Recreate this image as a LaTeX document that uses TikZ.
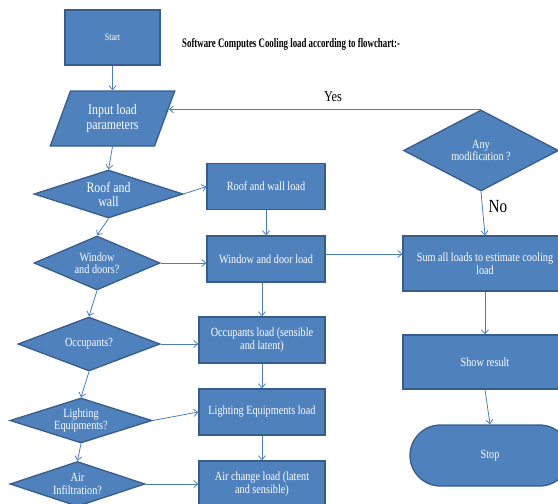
\documentclass[tikz,border=0pt]{standalone}
\usepackage{fontspec}
\setmainfont{Liberation Serif}
\newfontfamily\cf[FakeStretch=0.82]{Liberation Serif}
\newfontfamily\tf[FakeStretch=0.68]{Liberation Serif}
\usetikzlibrary{shapes.geometric,shapes.misc,arrows.meta}
\definecolor{boxfill}{HTML}{4F81BD}
\definecolor{boxline}{HTML}{385D8A}
\definecolor{arrowc}{HTML}{4A7EBB}
\tikzset{
  shp/.style={fill=boxfill,draw=boxline,line width=1.3pt,text=white,align=center,inner sep=0pt,
    font=\cf\fontsize{12.5}{12.5}\selectfont},
  rectbox/.style={shp,rectangle},
  decbox/.style={shp,diamond,aspect=3},
  iobox/.style={shp,trapezium,trapezium stretches=true,trapezium left angle=66,trapezium right angle=114},
  endbox/.style={shp,rounded rectangle},
  conn/.style={draw=arrowc,line width=0.8pt,-{Straight Barb[length=4pt,width=7pt]}},
  lbl/.style={font=\cf\fontsize{15}{15}\selectfont,inner sep=0pt}
}
\begin{document}
\begin{tikzpicture}[x=1pt,y=-1pt]
\useasboundingbox (0,0) rectangle (558,504);
% nodes
\node[rectbox,minimum width=95pt,minimum height=55pt,font=\cf\fontsize{10}{10}\selectfont] (start) at (112.5,37.5) {Start};
\node[anchor=west,inner sep=0pt,font=\tf\bfseries\fontsize{13}{13}\selectfont] (title) at (182,44) {Software Computes Cooling load according to flowchart:-};
\node[iobox,minimum width=125pt,minimum height=55pt,font=\cf\fontsize{14.5}{15}\selectfont] (inp) at (112.5,118.5) {Input load\\parameters};
\node[decbox,minimum width=149pt,minimum height=48pt,font=\cf\fontsize{14.5}{14}\selectfont] (roof) at (108.5,194) {Roof and\\wall};
\node[rectbox,minimum width=118pt,minimum height=46pt] (roofL) at (266,186.5) {Roof and wall load};
\node[decbox,minimum width=126pt,minimum height=54pt] (win) at (97,263) {Window\\and doors?};
\node[rectbox,minimum width=118pt,minimum height=46pt] (winL) at (266,259) {Window and door load};
\node[decbox,minimum width=142pt,minimum height=54pt] (occ) at (89,344) {Occupants?};
\node[rectbox,minimum width=126pt,minimum height=46pt] (occL) at (262,340) {Occupants load (sensible\\and latent)};
\node[decbox,minimum width=142pt,minimum height=45pt] (lig) at (81,420.5) {Lighting\\Equipments?};
\node[rectbox,minimum width=126pt,minimum height=46pt] (ligL) at (262,412) {Lighting Equipments load};
\node[decbox,minimum width=135pt,minimum height=45pt] (air) at (77.5,484) {Air\\Infiltration?};
\node[rectbox,minimum width=126pt,minimum height=46pt] (airL) at (262,484) {Air change load (latent\\and sensible)};
\node[decbox,minimum width=155pt,minimum height=81pt] (mod) at (481,150.5) {Any\\modification ?};
\node[rectbox,minimum width=164pt,minimum height=55pt] (sum) at (485,263.5) {Sum all loads to estimate cooling\\load};
\node[rectbox,minimum width=164pt,minimum height=54pt] (show) at (485,362) {Show result};
\node[endbox,minimum width=160pt,minimum height=61pt] (stop) at (490,455.5) {Stop};
\node[lbl] (yes) at (333,97) {Yes};
\node[lbl,font=\cf\fontsize{18.5}{18.5}\selectfont] (no) at (498,207) {No};
% connectors
\draw[conn] (start.south) -- (inp.north);
\draw[conn] (inp.south) -- (roof.north);
\draw[conn] (roof.south) -- (win.north);
\draw[conn] (win.south) -- (occ.north);
\draw[conn] (occ.south) -- (lig.north);
\draw[conn] (lig.south) -- (air.north);
\draw[conn] (roof.east) -- (roofL.west);
\draw[conn] (win.east) -- (win.east -| winL.west);
\draw[conn] (occ.east) -- (occ.east -| occL.west);
\draw[conn] (lig.east) -- (ligL.west);
\draw[conn] (air.east) -- (airL.west);
\draw[conn] (roofL.south) -- (winL.north);
\draw[conn] (occL.north |- winL.south) -- (occL.north);
\draw[conn] (occL.south) -- (ligL.north);
\draw[conn] (ligL.south) -- (airL.north);
\draw[conn] ([yshift=5pt]winL.east) -- ([yshift=5pt]winL.east -| sum.west);
\draw[conn] (mod.north) -- (mod.north -| inp.10);
\draw[conn] (mod.south) -- (sum.north);
\draw[conn] (sum.south) -- (show.north);
\draw[conn] (show.south) -- (stop.north);
\end{tikzpicture}
\end{document}
